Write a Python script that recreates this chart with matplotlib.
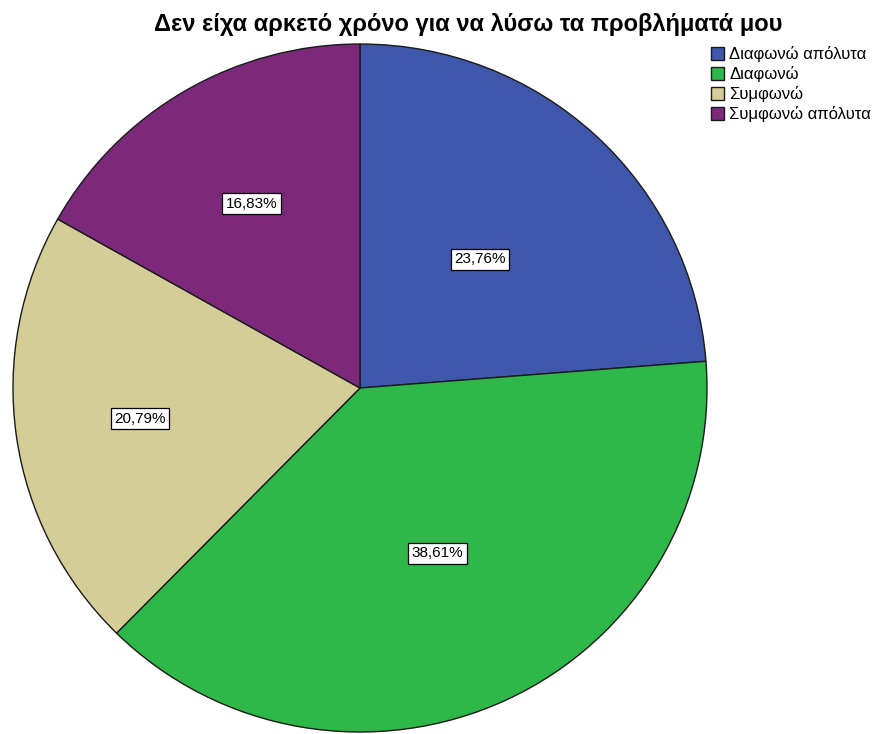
import numpy as np
import matplotlib
matplotlib.use("Agg")
import matplotlib.pyplot as plt

# Απαντήσεις στην ερώτηση
categories = ["Διαφωνώ απόλυτα", "Διαφωνώ", "Συμφωνώ", "Συμφωνώ απόλυτα"]
percentages = [23.76, 38.61, 20.79, 16.83]
colors = ["#3f57ab", "#2eb84a", "#d5cd97", "#7c287b"]
label_radius = [0.51, 0.53, 0.64, 0.62]

title = "Δεν είχα αρκετό χρόνο για να λύσω τα προβλήματά μου"

plt.rcParams["font.family"] = ["Liberation Sans", "DejaVu Sans"]

fig = plt.figure(figsize=(8.77, 7.34), dpi=100)
ax = fig.add_axes([13 / 877, 2 / 734, 694 / 877, 688 / 734])

wedges, _ = ax.pie(
    percentages,
    colors=colors,
    startangle=90,
    counterclock=False,
    wedgeprops=dict(edgecolor="#1a1a1a", linewidth=1.0),
)
ax.set_aspect("auto")
ax.set_xlim(-1, 1)
ax.set_ylim(-1, 1)

# etiquetas de porcentaje con coma decimal
for w, pct, r in zip(wedges, percentages, label_radius):
    ang = np.deg2rad((w.theta1 + w.theta2) / 2)
    ax.text(
        r * np.cos(ang), r * np.sin(ang),
        f"{pct:.2f}%".replace(".", ","),
        ha="center", va="center", fontsize=11,
        bbox=dict(boxstyle="square,pad=0.22", facecolor="white",
                  edgecolor="black", linewidth=0.9),
    )

fig.text(468 / 877, 1 - 25 / 734, title, ha="center", va="center",
         fontsize=17, fontweight="bold")

fig.legend(
    wedges, categories,
    loc="upper left", bbox_to_anchor=(711 / 877, 1 - 46 / 734),
    frameon=False, fontsize=12,
    handlelength=0.8, handleheight=0.8, handletextpad=0.3,
    labelspacing=0.25, borderpad=0, borderaxespad=0,
)

fig.savefig("out.png", dpi=100)
